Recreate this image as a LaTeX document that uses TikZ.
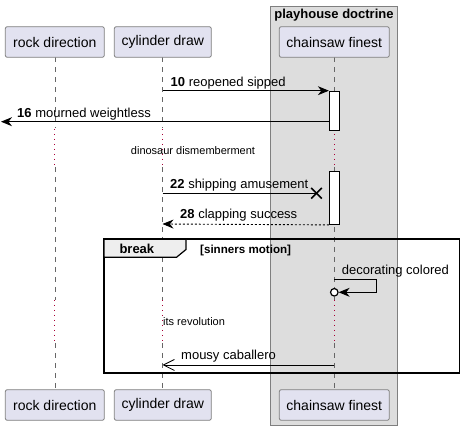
\documentclass[tikz,border=0pt]{standalone}
\usepackage{fontspec}
\setmainfont{Liberation Sans}
\usetikzlibrary{arrows.meta,calc}
\definecolor{partfill}{HTML}{E2E2F0}
\definecolor{partdraw}{HTML}{7F7F7F}
\definecolor{grpfill}{HTML}{DDDDDD}
\definecolor{delayred}{HTML}{A80036}
\definecolor{tabfill}{HTML}{EEEEEE}
\tikzset{
  part/.style={draw=partdraw, fill=partfill, rounded corners=2pt, minimum height=30.6pt, inner sep=0pt, font=\fontsize{14}{16}\selectfont, line width=0.8pt},
  lifeline/.style={draw=gray!80!black, dash pattern=on 5pt off 5pt, line width=0.6pt},
  delayline/.style={draw=delayred, dash pattern=on 1pt off 4pt, line width=0.9pt},
  actbar/.style={draw=black, fill=white, line width=0.9pt},
  msg/.style={draw=black, line width=0.9pt},
  msglabel/.style={anchor=base west, inner sep=0pt, font=\fontsize{13}{15}\selectfont},
  delaylabel/.style={inner sep=0pt, font=\fontsize{11}{13}\selectfont},
  filled/.style={-{Stealth[length=11pt,width=9pt,inset=3.5pt]}},
}
\begin{document}
\begin{tikzpicture}[x=1pt,y=-1pt]
\useasboundingbox (0,0) rectangle (464,430);
% group box
\draw[draw=partdraw, fill=grpfill, line width=0.8pt] (270,6) rectangle (397.3,425);
\node[anchor=base, inner sep=0pt, font=\bfseries\fontsize{13}{15}\selectfont] (gtitle) at (334,19) {playhouse doctrine};
% lifelines, dashed parts
\draw[lifeline] (54.8,57.3) -- (54.8,128);
\draw[lifeline] (54.8,167) -- (54.8,300);
\draw[lifeline] (54.8,343) -- (54.8,389.3);
\draw[lifeline] (162.5,57.3) -- (162.5,128);
\draw[lifeline] (162.5,167) -- (162.5,300);
\draw[lifeline] (162.5,343) -- (162.5,389.3);
\draw[lifeline] (334.3,57.3) -- (334.3,128);
\draw[lifeline] (334.3,167) -- (334.3,300);
\draw[lifeline] (334.3,343) -- (334.3,389.3);
% delay dotted parts
\foreach \x in {54.8,162.5,334.3}{
  \draw[delayline] (\x,129) -- (\x,168);
  \draw[delayline] (\x,300) -- (\x,343);
}
% participants
\node[part, minimum width=99pt] (A) at (54.8,42) {rock direction};
\node[part, minimum width=97pt] (B) at (162.8,42) {cylinder draw};
\node[part, minimum width=110pt] (C) at (334.3,42) {chainsaw finest};
\node[part, minimum width=99pt] (A2) at (54.8,405) {rock direction};
\node[part, minimum width=97pt] (B2) at (162.8,405) {cylinder draw};
\node[part, minimum width=110pt] (C2) at (334.3,405) {chainsaw finest};
% activation bars
\node[actbar, minimum width=10pt, minimum height=39.3pt, inner sep=0pt, anchor=north] (act1) at (334.3,90.7) {};
\node[actbar, minimum width=10pt, minimum height=53.3pt, inner sep=0pt, anchor=north] (act2) at (334.3,170.7) {};
% message 10
\coordinate (m10s) at (162.5,90.7);
\draw[msg, filled] (m10s) -- (act1.north west);
\node[msglabel] (l10) at (170.5,86.5) {\textbf{10} reopened sipped};
% message 16
\coordinate (m16s) at (329.3,121.7);
\coordinate (m16e) at (1,121.7);
\draw[msg, filled] (m16s) -- (m16e);
\node[msglabel] (l16) at (17,117.3) {\textbf{16} mourned weightless};
% delay label 1
\node[delaylabel, anchor=base] (d1) at (193,155) {dinosaur dismemberment};
% message 22 lost with X
\coordinate (m22s) at (162.5,193.3);
\coordinate (x22) at (316.5,193.3);
\draw[msg] (m22s) -- (x22);
\draw[line width=1.6pt] ($(x22)+(-5.3,-5.3)$) -- ($(x22)+(5.3,5.3)$);
\draw[line width=1.6pt] ($(x22)+(-5.3,5.3)$) -- ($(x22)+(5.3,-5.3)$);
\node[msglabel] (l22) at (170,188.3) {\textbf{22} shipping amusement};
% message 28 dashed return
\coordinate (m28e) at (162.5,224);
\draw[msg, filled, dash pattern=on 2pt off 2pt] (act2.south west) -- (m28e);
\node[msglabel] (l28) at (180,218.5) {\textbf{28} clapping success};
% break frame
\draw[line width=1.6pt] (104,239.3) rectangle (459.3,373.3);
\draw[fill=tabfill, line width=1.2pt] (104,239.3) -- (186,239.3) -- (186,249.5) -- (176.5,257.3) -- (104,257.3) -- cycle;
\node[anchor=base west, inner sep=0pt, font=\bfseries\fontsize{13}{15}\selectfont] (brk) at (119.3,254) {break};
\node[anchor=base west, inner sep=0pt, font=\bfseries\fontsize{11.6}{13}\selectfont] (guard) at (200,253.3) {[sinners motion]};
% self message
\coordinate (s1) at (334.3,279.3);
\coordinate (s2) at (376.7,279.3);
\coordinate (s3) at (376.7,292.3);
\node[circle, draw, line width=1.2pt, fill=white, minimum size=7.5pt, inner sep=0pt] (circ) at (334.3,292.3) {};
\draw[msg, filled] (s1) -- (s2) -- (s3) -- (circ.east);
\node[msglabel] (lself) at (341.7,275) {decorating colored};
% delay label 2
\node[delaylabel, anchor=base west] (d2) at (163,325.7) {its revolution};
% mousy caballero
\coordinate (mcs) at (334.3,365);
\coordinate (mce) at (162.5,365);
\draw[msg, -{Straight Barb[length=11pt,width=11pt,line width=0.8pt]}] (mcs) -- (mce);
\node[msglabel] (lmc) at (181,359.5) {mousy caballero};
\end{tikzpicture}
\end{document}
